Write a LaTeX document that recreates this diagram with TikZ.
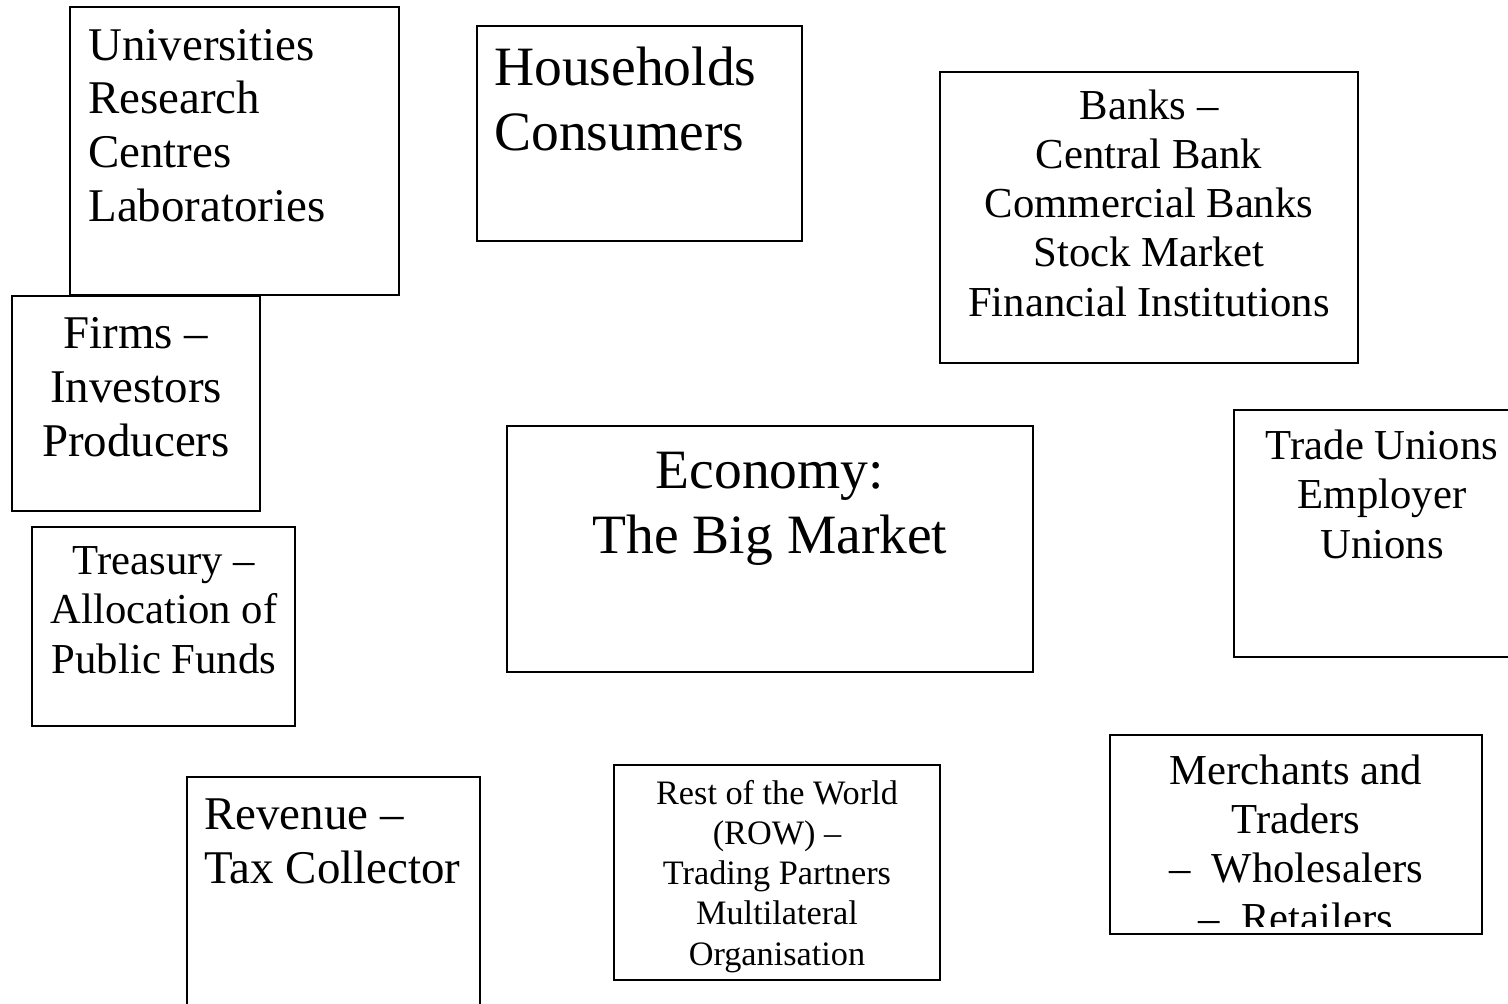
\documentclass[tikz,border=0pt]{standalone}
\usepackage{fontspec}
\setmainfont{Liberation Serif}
\usetikzlibrary{fit}

\begin{document}
\begin{tikzpicture}[
            x=0.02cm, y=-0.02cm,
            bx/.style={draw, line width=0.8pt, inner sep=0pt},
            lbl/.style={inner sep=0pt, align=center, anchor=base},
            t19/.style={lbl, font=\fontsize{19.5}{22.8}\selectfont},
            t24/.style={lbl, font=\fontsize{24.3}{27.9}\selectfont},
            t27/.style={lbl, font=\fontsize{26.7}{30.5}\selectfont},
            t32/.style={lbl, font=\fontsize{31.6}{36.9}\selectfont},
        ]
            \useasboundingbox (0,0) rectangle (1508,1004);

            % frames
            \node[bx, fit={(70,7) (399,295)}] (uni) {};
            \node[bx, fit={(477,26) (802,241)}] (hh) {};
            \node[bx, fit={(940,72) (1358,363)}] (banks) {};
            \node[bx, fit={(12,296) (260,511)}] (firms) {};
            \node[bx, fit={(32,527) (295,726)}] (treas) {};
            \node[bx, fit={(507,426) (1033,672)}] (econ) {};
            \node[bx, fit={(1234,410) (1530,657)}] (unions) {};
            \node[bx, fit={(187,777) (480,1030)}] (rev) {};
            \node[bx, fit={(614,765) (940,980)}] (row) {};
            \node[bx, fit={(1110,735) (1482,934)}] (merch) {};

            % labels (placed on the baseline of their last line)
            \node[t27, align=left, anchor=base west] (unitxt) at (88,221) {Universities\\Research\\Centres\\Laboratories};
            \node[t32, align=left, anchor=base west] (hhtxt) at (494,150) {Households\\Consumers};
            \node[t24] (bankstxt) at (1149,316) {Banks –\\Central Bank\\Commercial Banks\\Stock Market\\Financial Institutions};
            \node[t27] (firmstxt) at (136,456) {Firms –\\Investors\\Producers};
            \node[t24] (treastxt) at (164,673) {Treasury –\\Allocation of\\Public Funds};
            \node[t32] (econtxt) at (770,553) {Economy:\\The Big Market};
            \node[t24] (unionstxt) at (1382,558) {Trade Unions\\Employer\\Unions};
            \node[t27, align=left, anchor=base west] (revtxt) at (204,883) {Revenue –\\Tax Collector};
            \node[t19] (rowtxt) at (777,965) {Rest of the World\\(ROW) –\\Trading Partners\\Multilateral\\Organisation};
            \begin{scope}
                \clip (1110,735) rectangle (1482,926);
                \node[t24] (merchtxt) at (1296,932) {Merchants and\\Traders\\–\hspace{0.5em}Wholesalers\\–\hspace{0.5em}Retailers};
            \end{scope}
        \end{tikzpicture}
\end{document}
